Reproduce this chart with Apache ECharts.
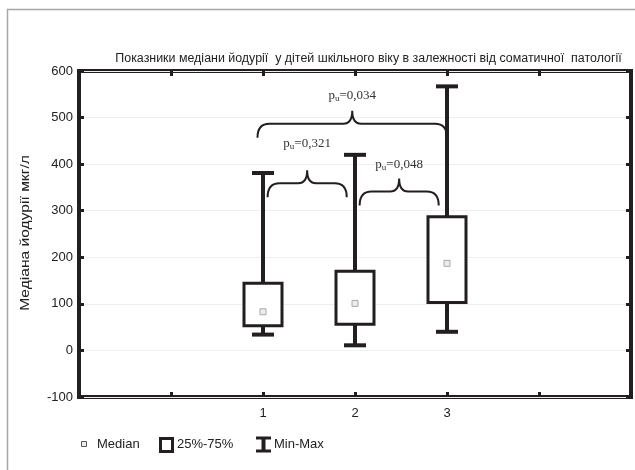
<!DOCTYPE html>
<html><head><meta charset="utf-8">
<script src="https://cdn.jsdelivr.net/npm/echarts@6/dist/echarts.min.js"></script>
<style>html,body{margin:0;padding:0;background:#fff}#c{width:635px;height:470px}</style>
</head><body><div id="c"></div>
<script>
// ---- data ----
const groups = ['1', '2', '3'];
const minVals = [34, 11, 40];
const q1Vals = [53, 56, 103];
const medianVals = [83, 101, 187];
const q3Vals = [144, 170, 287];
const maxVals = [381, 420, 567];
const yTickLabels = ['-100', '0', '100', '200', '300', '400', '500', '600'];
const comparePairs = [[0, 1], [1, 2], [0, 2]];
const pValues = ['0,321', '0,048', '0,034'];
const titleText = 'Показники медіани йодурії  у дітей шкільного віку в залежності від соматичної  патології';
const yAxisName = 'Медіана йодурії мкг/л';
const legendNames = ['Median', '25%-75%', 'Min-Max'];

// ---- layout / style ----
const INK = '#231f20';
const FONT = '"Liberation Sans", Arial, sans-serif';
const SERIF = '"Liberation Serif", "Times New Roman", serif';
const POS0 = 2;            // x-scale position of first group (axis runs 0..6)
const braceLayout = [
  { y: 359, inL: 0.05, inR: 0.09, labelY: 445 },
  { y: 341, inL: 0.05, inR: 0.09, labelY: 400 },
  { y: 487, inL: -0.06, inR: 0.0, labelY: 548 }
];

const boxData = groups.map((g, i) => [POS0 + i, minVals[i], q1Vals[i], medianVals[i], q3Vals[i], maxVals[i]]);

function renderBox(params, api) {
  const x = api.coord([api.value(0), 0])[0];
  const yMin = api.coord([0, api.value(1)])[1];
  const yQ1 = api.coord([0, api.value(2)])[1];
  const yMed = api.coord([0, api.value(3)])[1];
  const yQ3 = api.coord([0, api.value(4)])[1];
  const yMax = api.coord([0, api.value(5)])[1];
  const ls = { stroke: INK, lineWidth: 4 };
  const hw = 19, cw = 11;
  return {
    type: 'group',
    children: [
      { type: 'line', shape: { x1: x, y1: yMax, x2: x, y2: yQ3 }, style: ls },
      { type: 'line', shape: { x1: x - cw, y1: yMax, x2: x + cw, y2: yMax }, style: ls },
      { type: 'line', shape: { x1: x, y1: yQ1, x2: x, y2: yMin }, style: ls },
      { type: 'line', shape: { x1: x - cw, y1: yMin, x2: x + cw, y2: yMin }, style: ls },
      { type: 'rect', shape: { x: x - hw, y: yQ3, width: 2 * hw, height: yQ1 - yQ3 }, style: { fill: '#fff', stroke: INK, lineWidth: 3 } },
      { type: 'rect', shape: { x: x - 3, y: yMed - 3, width: 6, height: 6 }, style: { fill: '#ececec', stroke: '#a8a8a8', lineWidth: 1 } }
    ]
  };
}

function renderBrace(params, api) {
  const i = params.dataIndex;
  const pr = comparePairs[i], L = braceLayout[i];
  const p1 = api.coord([POS0 + pr[0] + L.inL, L.y]);
  const p2 = api.coord([POS0 + pr[1] - L.inR, L.y]);
  const xL = p1[0], xR = p2[0], yH = p1[1];
  const yB = yH + 14, yT = yH - 13, xc = (xL + xR) / 2, r = 12;
  const path = `M${xL} ${yB} Q${xL} ${yH} ${xL + r} ${yH} L${xc - 9} ${yH} C${xc - 3} ${yH} ${xc} ${yH - 4} ${xc} ${yT} ` +
    `C${xc} ${yH - 4} ${xc + 3} ${yH} ${xc + 9} ${yH} L${xR - r} ${yH} Q${xR} ${yH} ${xR} ${yB}`;
  const lp = api.coord([0, L.labelY]);
  return {
    type: 'group',
    children: [
      { type: 'path', shape: { pathData: path }, style: { fill: 'none', stroke: INK, lineWidth: 2 } },
      {
        type: 'text', x: xc, y: lp[1],
        style: {
          text: '{p|p}{s|u}{p|=' + pValues[i] + '}',
          align: 'center', verticalAlign: 'middle',
          rich: {
            p: { fontFamily: SERIF, fontSize: 13, lineHeight: 16, fill: '#333', verticalAlign: 'middle' },
            s: { fontFamily: SERIF, fontSize: 9, lineHeight: 9, fill: '#333', verticalAlign: 'bottom' }
          }
        }
      }
    ]
  };
}

const tickStyle = { inside: true, length: 5, lineStyle: { color: INK, width: 3 } };
const noLine = { show: false, onZero: false };

const chart = echarts.init(document.getElementById('c'), null, { renderer: 'canvas' });
chart.setOption({
  animation: false,
  backgroundColor: '#fff',
  grid: { left: 79, top: 71, width: 552, height: 326, show: true, borderColor: INK, borderWidth: 4, backgroundColor: 'transparent' },
  xAxis: [
    {
      type: 'value', min: 0, max: 6, interval: 1, position: 'bottom',
      axisLine: noLine, axisTick: tickStyle, splitLine: { show: false },
      axisLabel: {
        formatter: v => (v >= POS0 && v < POS0 + groups.length) ? groups[v - POS0] : '',
        fontSize: 13, color: '#222', margin: 10, fontFamily: FONT, showMinLabel: true, showMaxLabel: true
      }
    },
    {
      type: 'value', min: 0, max: 6, interval: 1, position: 'top',
      axisLine: noLine, axisTick: tickStyle, splitLine: { show: false }, axisLabel: { show: false }
    }
  ],
  yAxis: [
    {
      type: 'value', min: -100, max: 600, interval: 100, position: 'left',
      axisLine: noLine, axisTick: tickStyle,
      splitLine: { show: true, lineStyle: { color: '#efefef', width: 1 } },
      axisLabel: {
        formatter: v => yTickLabels[Math.round((v + 100) / 100)],
        fontSize: 13, color: '#222', margin: 6, fontFamily: FONT
      }
    },
    {
      type: 'value', min: -100, max: 600, interval: 100, position: 'right',
      axisLine: noLine, axisTick: tickStyle, splitLine: { show: false }, axisLabel: { show: false }
    }
  ],
  series: [
    { type: 'custom', renderItem: renderBrace, data: pValues.map((p, i) => [i]), silent: true, z: 3 },
    { type: 'custom', renderItem: renderBox, data: boxData, encode: { x: 0, y: [1, 2, 3, 4, 5] }, z: 4 }
  ],
  graphic: [
    { type: 'rect', shape: { x: 7.5, y: 9.5, width: 700, height: 500 }, style: { fill: 'none', stroke: '#a6a6a6', lineWidth: 1.5 }, silent: true },
    { type: 'text', x: 368.5, y: 59, scaleX: 1.035, style: { text: titleText, font: '12px ' + FONT, fill: '#222', align: 'center', verticalAlign: 'middle' } },
    { type: 'text', x: 25, y: 233, rotation: Math.PI / 2, scaleX: 1.2, style: { text: yAxisName, font: '13px ' + FONT, fill: '#222', align: 'center', verticalAlign: 'middle' } },
    // legend
    { type: 'rect', shape: { x: 81.5, y: 441.5, width: 5, height: 5 }, style: { fill: '#eee', stroke: '#555', lineWidth: 1 } },
    { type: 'text', x: 97, y: 444.5, style: { text: legendNames[0], font: '13px ' + FONT, fill: '#222', verticalAlign: 'middle' } },
    { type: 'rect', shape: { x: 160.5, y: 438.5, width: 12, height: 13 }, style: { fill: '#fff', stroke: INK, lineWidth: 3 } },
    { type: 'text', x: 177, y: 444.5, style: { text: legendNames[1], font: '13px ' + FONT, fill: '#222', verticalAlign: 'middle' } },
    { type: 'line', shape: { x1: 256, y1: 438, x2: 271, y2: 438 }, style: { stroke: INK, lineWidth: 3 } },
    { type: 'line', shape: { x1: 256, y1: 451, x2: 271, y2: 451 }, style: { stroke: INK, lineWidth: 3 } },
    { type: 'line', shape: { x1: 263.5, y1: 438, x2: 263.5, y2: 451 }, style: { stroke: INK, lineWidth: 4 } },
    { type: 'text', x: 274, y: 444.5, style: { text: legendNames[2], font: '13px ' + FONT, fill: '#222', verticalAlign: 'middle' } }
  ]
});
</script>
</body></html>
